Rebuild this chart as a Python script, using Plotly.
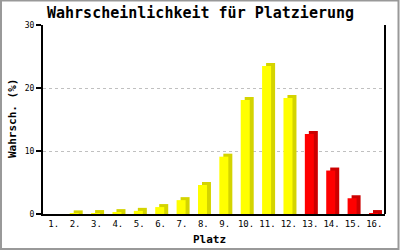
import plotly.graph_objects as go

places = ["1.", "2.", "3.", "4.", "5.", "6.", "7.", "8.", "9.", "10.", "11.", "12.", "13.", "14.", "15.", "16."]
probability = [0.0, 0.1, 0.15, 0.3, 0.5, 1.1, 2.2, 4.6, 9.1, 18.1, 23.5, 18.4, 12.7, 6.9, 2.5, 0.15]
red_from_place = 13

W, H = 400, 250
ml, mr, mt, mb = 43, 15, 25, 36
pw, ph = W - ml - mr, H - mt - mb
ymax = 30
cat_px = pw / len(places)
depth_y = 3 / ph * ymax          # 3px vertical depth, in data units
depth_x = 4 / cat_px             # 4px horizontal depth, in category units
bar_w = 9 / cat_px

front_colors = ["#FF0000" if i + 1 >= red_from_place else "#FFFF00" for i in range(len(places))]
side_colors = ["#CC0000" if i + 1 >= red_from_place else "#D4D400" for i in range(len(places))]
shadow_vals = [v + depth_y if v > 0 else 0 for v in probability]

fig = go.Figure()
fig.add_bar(x=places, y=shadow_vals, width=bar_w, offset=-0.25 + depth_x,
            marker=dict(color=side_colors, line=dict(width=0)), hoverinfo="skip")
fig.add_bar(x=places, y=probability, width=bar_w, offset=-0.25,
            marker=dict(color=front_colors, line=dict(width=0)))

mono = "DejaVu Sans Mono"
fig.update_layout(
    width=W, height=H, margin=dict(l=ml, r=mr, t=mt, b=mb),
    barmode="overlay", showlegend=False,
    paper_bgcolor="white", plot_bgcolor="white",
    font=dict(family=mono, color="black"),
    xaxis=dict(type="category", range=[-0.5, len(places) - 0.5], showgrid=False,
               showline=True, linecolor="black", linewidth=2, ticks="",
               tickfont=dict(size=9, family=mono), fixedrange=True),
    yaxis=dict(range=[0, ymax], tickvals=[0, 10, 20, 30], ticks="outside", ticklen=5,
               tickcolor="black", tickwidth=1.5, showline=True, linecolor="black", linewidth=2,
               showgrid=True, gridcolor="#C0C0C0", griddash="dot", gridwidth=1,
               zeroline=False, tickfont=dict(size=8, family=mono)),
    annotations=[
        dict(text="<b>Wahrscheinlichkeit für Platzierung</b>", xref="paper", yref="paper",
             x=(200 - ml) / pw, y=(H - mb - 13) / ph, xanchor="center", yanchor="middle",
             showarrow=False, font=dict(size=15, family=mono)),
        dict(text="<b>Platz</b>", xref="paper", yref="paper",
             x=(209 - ml) / pw, y=-(239 - (H - mb)) / ph, xanchor="center", yanchor="middle",
             showarrow=False, font=dict(size=11, family=mono)),
        dict(text="<b>Wahrsch. (%)</b>", xref="paper", yref="paper", textangle=-90,
             x=(12 - ml) / pw, y=(H - mb - 119) / ph, xanchor="center", yanchor="middle",
             showarrow=False, font=dict(size=11, family=mono)),
    ],
    shapes=[
        dict(type="line", xref="paper", yref="paper", x0=1, x1=1, y0=0, y1=1,
             line=dict(color="black", width=2)),
        dict(type="rect", xref="paper", yref="paper",
             x0=-(ml - 1) / pw, x1=1 + (mr - 1.5) / pw, y0=-(mb - 1) / ph, y1=1 + (mt - 0.5) / ph,
             line=dict(color="#999999", width=2), layer="below"),
    ],
)

fig.write_html("out.html", config={"displayModeBar": False})
